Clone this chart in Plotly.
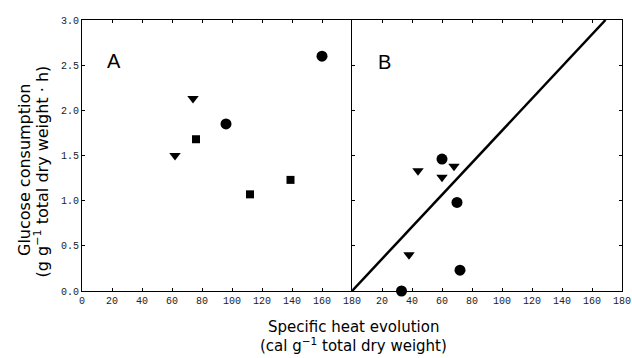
import plotly.graph_objects as go

# Panel A data
a_circle_x = [96, 160]
a_circle_y = [1.85, 2.6]
a_tri_x = [62, 74]
a_tri_y = [1.5, 2.13]
a_sq_x = [76, 112, 139]
a_sq_y = [1.68, 1.07, 1.23]

# Panel B data
b_circle_x = [33, 60, 70, 72]
b_circle_y = [0.0, 1.46, 0.98, 0.23]
b_tri_x = [38, 44, 60, 68]
b_tri_y = [0.4, 1.33, 1.26, 1.38]
b_line_x = [0, 169]
b_line_y = [0, 3.0]

x_ticks_a = [0, 20, 40, 60, 80, 100, 120, 140, 160, 180]
x_ticks_b = [20, 40, 60, 80, 100, 120, 140, 160, 180]
y_ticks = [0.0, 0.5, 1.0, 1.5, 2.0, 2.5, 3.0]

W, H = 632, 358
ML, MR, MT, MB = 82, 10, 20, 67
PW, PH = W - ML - MR, H - MT - MB


def px_x(px):
    return (px - ML) / PW


def px_y(py):
    return (H - MB - py) / PH


fig = go.Figure()
mk = dict(color="black")
fig.add_trace(go.Scatter(x=a_circle_x, y=a_circle_y, mode="markers",
                         marker=dict(symbol="circle", size=11, **mk), xaxis="x", yaxis="y", cliponaxis=False))
fig.add_trace(go.Scatter(x=a_tri_x, y=a_tri_y, mode="markers",
                         marker=dict(symbol="triangle-down", size=10, **mk), xaxis="x", yaxis="y"))
fig.add_trace(go.Scatter(x=a_sq_x, y=a_sq_y, mode="markers",
                         marker=dict(symbol="square", size=8, **mk), xaxis="x", yaxis="y"))
fig.add_trace(go.Scatter(x=b_line_x, y=b_line_y, mode="lines",
                         line=dict(color="black", width=2.5), xaxis="x2", yaxis="y2", cliponaxis=False))
fig.add_trace(go.Scatter(x=b_circle_x, y=b_circle_y, mode="markers",
                         marker=dict(symbol="circle", size=11, **mk), xaxis="x2", yaxis="y2", cliponaxis=False))
fig.add_trace(go.Scatter(x=b_tri_x, y=b_tri_y, mode="markers",
                         marker=dict(symbol="triangle-down", size=10, **mk), xaxis="x2", yaxis="y2"))

tickfont = dict(family="Liberation Mono", size=10, color="#222")
axcommon = dict(showline=True, linecolor="black", linewidth=1,
                ticks="inside", ticklen=3, tickcolor="black", showgrid=False,
                zeroline=False, tickfont=tickfont, automargin=False)

title_font_y = dict(family="DejaVu Sans", size=16, color="black")
title_font_x = dict(family="DejaVu Sans", size=15, color="black")
label_font = dict(family="Liberation Sans", size=20, color="black")

fig.update_layout(
    width=W, height=H,
    margin=dict(l=ML, r=MR, t=MT, b=MB, autoexpand=False),
    paper_bgcolor="white", plot_bgcolor="white",
    showlegend=False,
    xaxis=dict(domain=[0, 0.5], range=[0, 180], tickvals=x_ticks_a,
               ticktext=[str(v) for v in x_ticks_a], anchor="y", mirror="ticks", **axcommon),
    xaxis2=dict(domain=[0.5, 1], range=[0, 180], tickvals=x_ticks_b,
                ticktext=[str(v) for v in x_ticks_b], anchor="y2", mirror="ticks", **axcommon),
    yaxis=dict(domain=[0, 1], range=[0, 3.0], tickvals=y_ticks,
               ticktext=[f"{v:.1f}" for v in y_ticks], anchor="x", mirror=False, **axcommon),
    yaxis2=dict(domain=[0, 1], range=[0, 3.0], tickvals=y_ticks,
                showticklabels=False, anchor="x2", mirror="ticks", **axcommon),
    annotations=[
        dict(text="A", x=32 / 270, y=2.55, xref="x domain", yref="y", showarrow=False,
             xanchor="center", yanchor="middle", font=label_font),
        dict(text="B", x=32 / 270, y=2.53, xref="x2 domain", yref="y2", showarrow=False,
             xanchor="center", yanchor="middle", font=label_font),
        dict(text="Glucose consumption",
             x=px_x(24), y=px_y(170), xref="paper", yref="paper", showarrow=False, textangle=-90,
             xanchor="center", yanchor="middle", font=title_font_y),
        dict(text="(g g<sup>−1</sup> total dry weight · h)",
             x=px_x(41.5), y=px_y(172), xref="paper", yref="paper", showarrow=False, textangle=-90,
             xanchor="center", yanchor="middle", font=title_font_y),
        dict(text="Specific heat evolution",
             x=px_x(353), y=px_y(327), xref="paper", yref="paper", showarrow=False,
             xanchor="center", yanchor="middle", font=title_font_x),
        dict(text="(cal g<sup>−1</sup> total dry weight)",
             x=px_x(353), y=px_y(345), xref="paper", yref="paper", showarrow=False,
             xanchor="center", yanchor="middle", font=title_font_x),
    ],
)

fig.write_html("out.html")
